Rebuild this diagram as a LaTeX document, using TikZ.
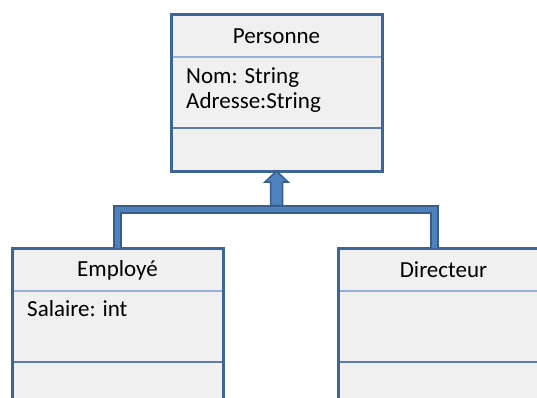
\documentclass[tikz,border=0pt]{standalone}
\usepackage{fontspec}
\setmainfont{Carlito}
\usepackage{tikz}
\usetikzlibrary{positioning}

\definecolor{boxgray}{HTML}{F0F0F0}
\definecolor{borderblue}{HTML}{3E6597}
\definecolor{headline}{HTML}{94B0D6}
\definecolor{footline}{HTML}{5A7DAE}
\definecolor{linkfill}{HTML}{4F81BD}
\definecolor{linkdraw}{HTML}{385D8A}

\tikzset{
	classbox/.style={draw=borderblue, fill=boxgray, line width=3pt, minimum width=211pt, minimum height=157pt, inner sep=0pt, outer sep=0pt},
	classname/.style={font=\fontsize{23}{25}\selectfont, inner sep=0pt},
	attr/.style={font=\fontsize{23}{25}\selectfont, inner sep=0pt, anchor=base west},
	headdiv/.style={draw=headline, line width=1.2pt, shorten <=1.5pt, shorten >=1.5pt},
	footdiv/.style={draw=footline, line width=1.2pt, shorten <=1.5pt, shorten >=1.5pt},
	inherit/.style={draw=linkdraw, line width=2pt, double=linkfill, double distance=5pt},
	headarrow/.style={draw=linkdraw, fill=linkfill, line width=1.5pt, line join=miter}
}

\begin{document}
\begin{tikzpicture}[x=1pt, y=-1pt]
	\clip (0,0) rectangle (537,397);
	\fill [white] (0,0) rectangle (537,397);
	%
	\coordinate (ptop) at (276.5,92.5);
	\coordinate (etop) at (117.5,326.5);
	\coordinate (dtop) at (443.5,326.5);
	%
	\node [classbox] (personne) at (ptop) {};
	\node [classbox] (employe) at (etop) {};
	\node [classbox] (directeur) at (dtop) {};
	%
	\coordinate (joint) at ([yshift=-38.5pt]personne.south);
	\coordinate (dirlink) at ([xshift=-9pt]directeur.north);
	\draw [inherit] (employe.north) |- (joint) -| (dirlink);
	\draw [headarrow] (personne.south) -- ++(11.5,11) -- ++(-5.5,0) -- ++(0,23.5) -- ++(-12,0) -- ++(0,-23.5) -- ++(-5.5,0) -- cycle;
	%
	\foreach \c in {personne, employe, directeur} {
		\draw [headdiv] ([yshift=-43pt]\c.north west) -- ([yshift=-43pt]\c.north east);
		\draw [footdiv] ([yshift=-114pt]\c.north west) -- ([yshift=-114pt]\c.north east);
	}
	%
	\node [classname] (pname) at ([yshift=-22pt]personne.north) {Personne};
	\node [classname] (ename) at ([yshift=-22pt]employe.north) {Employé};
	\node [classname] (dname) at ([yshift=-22pt]directeur.north) {Directeur};
	%
	\node [attr] (pnom) at ([xshift=15pt, yshift=-69pt]personne.north west) {Nom: String};
	\node [attr] (padr) at ([xshift=15pt, yshift=-94pt]personne.north west) {Adresse:String};
	\node [attr] (esal) at ([xshift=15pt, yshift=-68pt]employe.north west) {Salaire: int};
\end{tikzpicture}
\end{document}
